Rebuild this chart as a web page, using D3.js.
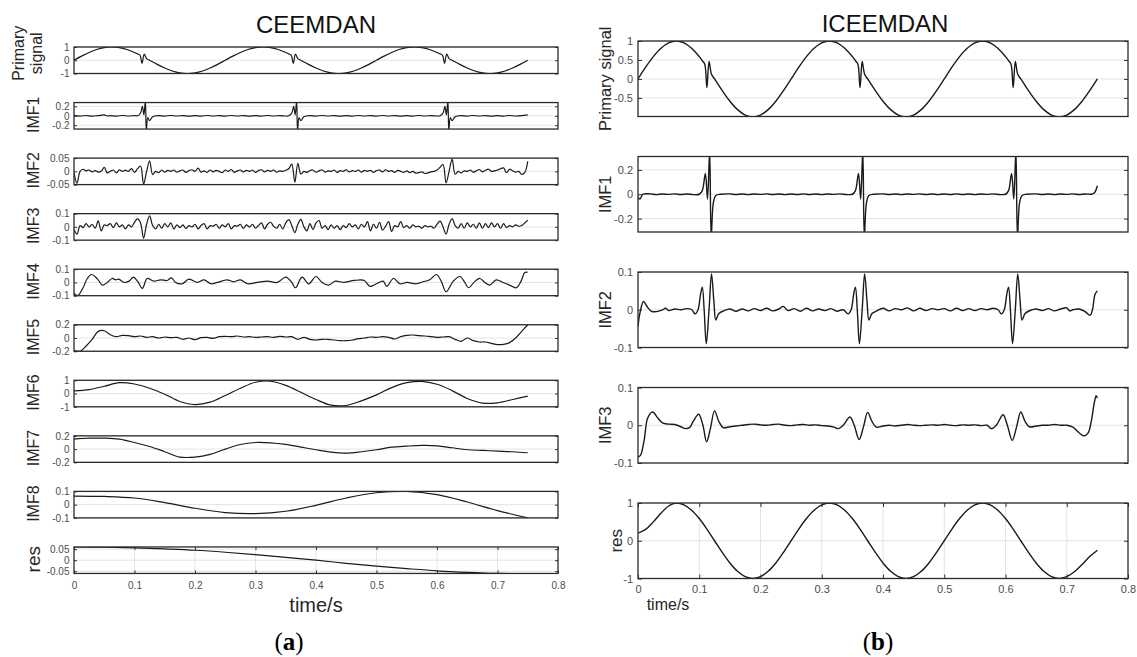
<!DOCTYPE html>
<html>
<head>
<meta charset="utf-8">
<script src="https://cdn.jsdelivr.net/npm/d3@7"></script>
<style>
  body { margin: 0; background: #fff; }
  svg text { font-family: "Liberation Sans", Arial, sans-serif; }
</style>
</head>
<body>
<script>
// ---------------- data ----------------
var timeTicks = [0, 0.1, 0.2, 0.3, 0.4, 0.5, 0.6, 0.7, 0.8];

// primary signal, [time, value]
var primarySignal = [
  [0, 0], [0.0125, 0.309], [0.025, 0.588], [0.0375, 0.809], [0.05, 0.951], [0.0625, 1], [0.075, 0.951], [0.0875, 0.809], [0.1, 0.588],
  [0.105, 0.48], [0.109, 0.39], [0.1125, -0.23], [0.116, 0.46], [0.12, 0.125],
  [0.125, 0], [0.1375, -0.309], [0.15, -0.588], [0.1625, -0.809], [0.175, -0.951], [0.1875, -1], [0.2, -0.951], [0.2125, -0.809], [0.225, -0.588], [0.2375, -0.309],
  [0.25, 0], [0.2625, 0.309], [0.275, 0.588], [0.2875, 0.809], [0.3, 0.951], [0.3125, 1], [0.325, 0.951], [0.3375, 0.809], [0.35, 0.588],
  [0.355, 0.48], [0.359, 0.39], [0.3625, -0.23], [0.366, 0.46], [0.37, 0.125],
  [0.375, 0], [0.3875, -0.309], [0.4, -0.588], [0.4125, -0.809], [0.425, -0.951], [0.4375, -1], [0.45, -0.951], [0.4625, -0.809], [0.475, -0.588], [0.4875, -0.309],
  [0.5, 0], [0.5125, 0.309], [0.525, 0.588], [0.5375, 0.809], [0.55, 0.951], [0.5625, 1], [0.575, 0.951], [0.5875, 0.809], [0.6, 0.588],
  [0.605, 0.48], [0.609, 0.39], [0.6125, -0.23], [0.616, 0.46], [0.62, 0.125],
  [0.625, 0], [0.6375, -0.309], [0.65, -0.588], [0.6625, -0.809], [0.675, -0.951], [0.6875, -1], [0.7, -0.951], [0.7125, -0.809], [0.725, -0.588], [0.7375, -0.309], [0.75, 0]
];

// CEEMDAN IMF1, [time, value]
var ceemdanImf1 = [
  [0, 0.01], [0.01, -0.005], [0.02, 0.006], [0.03, -0.006], [0.04, 0.004], [0.05, 0.018], [0.055, -0.004], [0.06, 0.003], [0.07, -0.005], [0.08, 0.006], [0.09, -0.004], [0.1, 0.005],
  [0.105, 0], [0.11, 0.06], [0.113, 0.2], [0.1155, 0.02], [0.118, 0.32], [0.1195, -0.32], [0.122, -0.04], [0.125, -0.1], [0.13, -0.02],
  [0.14, 0.004], [0.15, -0.005], [0.16, 0.006], [0.17, -0.004], [0.18, 0.005], [0.19, -0.006], [0.2, 0.004], [0.21, -0.005], [0.22, 0.006], [0.23, -0.004], [0.24, 0.005], [0.25, -0.005],
  [0.26, 0.006], [0.27, -0.004], [0.28, 0.005], [0.29, -0.006], [0.3, 0.004], [0.31, -0.005], [0.32, 0.006], [0.33, -0.004], [0.34, 0.005], [0.35, -0.004],
  [0.355, 0], [0.36, 0.06], [0.363, 0.2], [0.3655, 0.02], [0.368, 0.32], [0.3695, -0.32], [0.372, -0.04], [0.375, -0.1], [0.38, -0.02],
  [0.39, 0.004], [0.4, -0.005], [0.41, 0.006], [0.42, -0.004], [0.43, 0.005], [0.44, -0.006], [0.45, 0.004], [0.46, -0.005], [0.47, 0.006], [0.48, -0.004], [0.49, 0.005], [0.5, -0.005],
  [0.51, 0.006], [0.52, -0.004], [0.53, 0.005], [0.54, -0.006], [0.55, 0.004], [0.56, -0.005], [0.57, 0.006], [0.58, -0.004], [0.59, 0.005], [0.6, -0.004],
  [0.605, 0], [0.61, 0.06], [0.613, 0.2], [0.6155, 0.02], [0.618, 0.32], [0.6195, -0.32], [0.622, -0.04], [0.625, -0.1], [0.63, -0.02],
  [0.64, 0.004], [0.65, -0.005], [0.66, 0.006], [0.67, -0.004], [0.68, 0.005], [0.69, -0.006], [0.7, 0.004], [0.71, -0.005], [0.72, 0.006], [0.73, -0.004], [0.74, 0.003], [0.75, 0.02]
];

// CEEMDAN IMF2 and IMF3, one value every 0.005 s
var noiseStep = 0.005;
var ceemdanImf2 = [
  -0.005, -0.045, 0.0, 0.008, 0.002, 0.005, -0.002, 0.003, -0.003, 0.0,
  0.015, -0.006, 0.0, 0.005, -0.006, 0.006, 0.0, 0.005, 0.0, 0.01,
  -0.004, 0.01, 0.02, -0.048, 0.0, 0.04, -0.012, 0.0, -0.005, 0.005,
  -0.003, 0.004, 0.0, 0.005, -0.003, 0.002, 0.005, -0.004, 0.003, 0.006,
  0.0, 0.012, -0.003, 0.002, -0.004, 0.005, -0.002, 0.004, 0.0, -0.005,
  0.005, 0.0, 0.007, -0.004, 0.002, 0.005, -0.002, 0.004, 0.0, 0.005,
  -0.004, 0.003, 0.006, -0.002, 0.004, 0.0, 0.005, -0.003, 0.002, 0.0,
  0.004, 0.01, 0.027, -0.041, 0.03, -0.01, 0.0, -0.004, 0.003, 0.005,
  -0.003, 0.002, 0.006, -0.003, 0.002, 0.0, 0.005, -0.004, 0.003, 0.0,
  0.006, -0.002, 0.003, 0.0, 0.005, -0.003, 0.004, 0.0, 0.004, -0.004,
  0.003, 0.005, -0.002, 0.006, 0.0, 0.003, -0.004, 0.004, 0.0, -0.004,
  0.002, -0.005, 0.0, -0.007, -0.005, -0.002, -0.008, -0.006, -0.002, 0.0,
  0.005, 0.015, 0.026, -0.044, 0.0, 0.046, -0.011, 0.0, -0.006, 0.002,
  0.0, 0.005, -0.003, 0.002, 0.007, -0.002, 0.004, 0.008, 0.0, 0.002,
  0.005, 0.01, 0.013, -0.005, 0.008, 0.002, -0.003, 0.0, -0.011, -0.005,
  0.038
];
var ceemdanImf3 = [
  -0.02, -0.055, 0.01, -0.005, 0.025, 0.0, 0.02, -0.01, 0.045, -0.03,
  0.015, 0.01, 0.025, -0.005, 0.03, 0.0, 0.015, -0.015, 0.015, 0.0,
  0.035, 0.06, 0.03, -0.085, 0.02, 0.083, 0.01, -0.015, 0.02, -0.01,
  0.025, 0.0, 0.03, -0.015, 0.015, -0.005, 0.015, -0.012, 0.01, 0.0,
  0.02, -0.015, 0.01, 0.025, -0.015, 0.01, 0.005, 0.02, -0.01, 0.015,
  0.0, 0.025, -0.015, 0.01, 0.005, 0.02, -0.012, 0.015, 0.0, 0.02,
  -0.01, 0.01, 0.03, -0.015, 0.02, 0.035, 0.005, -0.01, 0.02, -0.015,
  0.03, 0.055, 0.01, -0.043, 0.02, 0.057, 0.0, -0.03, 0.025, -0.02,
  0.03, 0.048, -0.01, 0.01, -0.02, 0.015, -0.01, 0.01, -0.02, 0.01,
  -0.005, 0.025, 0.0, 0.015, -0.015, 0.02, 0.0, 0.04, -0.03, 0.02,
  -0.01, 0.035, -0.025, 0.005, 0.04, -0.035, 0.01, 0.0, 0.04, -0.005,
  0.01, -0.01, 0.015, 0.0, 0.005, -0.01, 0.01, 0.0, 0.005, -0.01,
  0.02, 0.044, 0.0, -0.054, 0.02, 0.063, 0.01, -0.01, 0.025, -0.01,
  0.03, 0.0, 0.02, -0.01, 0.03, -0.01, 0.025, -0.005, 0.03, 0.0,
  0.025, -0.01, 0.025, -0.005, 0.01, 0.0, 0.015, 0.005, 0.01, 0.03,
  0.05
];

// CEEMDAN IMF4, [time, value]
var ceemdanImf4 = [
  [0, -0.08], [0.006, -0.1], [0.015, -0.04], [0.022, 0.03], [0.029, 0.06], [0.039, 0.025], [0.047, -0.02], [0.055, 0.0], [0.063, 0.03], [0.069, 0.02],
  [0.074, 0.025], [0.083, 0.0], [0.091, 0.01], [0.098, 0.04], [0.105, 0.01], [0.113, -0.045], [0.121, 0.03], [0.132, 0.01], [0.143, 0.02], [0.154, 0.015],
  [0.161, 0.035], [0.168, 0.0], [0.179, -0.01], [0.19, 0.025], [0.204, 0.0], [0.215, 0.02], [0.226, -0.01], [0.237, 0.0], [0.253, 0.02], [0.264, 0.005],
  [0.275, 0.02], [0.287, -0.01], [0.303, 0.0], [0.32, 0.01], [0.336, 0.0], [0.35, 0.04], [0.36, 0.0], [0.366, -0.04], [0.377, 0.04], [0.388, -0.01],
  [0.4, 0.045], [0.41, 0.0], [0.421, -0.02], [0.432, 0.01], [0.446, 0.0], [0.463, 0.015], [0.48, 0.015], [0.489, -0.03], [0.5, -0.01], [0.511, 0.01],
  [0.517, -0.03], [0.528, 0.03], [0.539, -0.01], [0.55, 0.0], [0.566, -0.01], [0.577, 0.005], [0.588, 0.02], [0.599, 0.06], [0.607, 0.01], [0.615, -0.07],
  [0.627, 0.01], [0.638, 0.045], [0.646, 0.0], [0.652, -0.04], [0.663, 0.01], [0.671, 0.03], [0.679, 0.0], [0.687, -0.02], [0.698, 0.02], [0.709, 0.0],
  [0.72, -0.02], [0.731, -0.04], [0.739, 0.01], [0.745, 0.075], [0.75, 0.077]
];

// CEEMDAN IMF5, one value every 0.01 s
var imf5Step = 0.01;
var ceemdanImf5 = [
  -0.19, -0.2, -0.12, -0.02, 0.1, 0.11, 0.05, 0.02, 0.04, 0.035,
  0.02, 0.03, 0.01, 0.02, 0.0, 0.015, 0.005, 0.01, -0.02, 0.0,
  -0.025, 0.005, 0.01, -0.005, 0.02, 0.025, 0.02, 0.03, 0.015, 0.02,
  0.01, 0.015, 0.02, 0.01, 0.025, 0.015, 0.02, -0.02, 0.01, -0.02,
  -0.03, -0.02, -0.02, -0.03, -0.04, -0.04, -0.03, -0.01, 0.0, 0.015,
  0.01, 0.02, 0.01, -0.015, 0.02, 0.04, 0.045, 0.035, 0.03, 0.02,
  0.01, 0.015, 0.02, -0.02, -0.05, 0.0, -0.04, -0.06, -0.06, -0.08,
  -0.1, -0.095, -0.07, 0.0, 0.1, 0.2
];

// CEEMDAN IMF6 and IMF7, one value every 0.025 s
var slowStep = 0.025;
var ceemdanImf6 = [
  0.2, 0.3, 0.55, 0.82, 0.72, 0.4, -0.05, -0.6, -0.83, -0.65,
  -0.15, 0.4, 0.85, 0.93, 0.62, 0.1, -0.45, -0.88, -0.9, -0.55,
  -0.1, 0.45, 0.82, 0.92, 0.7, 0.22, -0.37, -0.72, -0.7, -0.45,
  -0.2
];
var ceemdanImf7 = [
  0.15, 0.165, 0.165, 0.15, 0.1, 0.04, -0.04, -0.12, -0.12, -0.08,
  0.0, 0.07, 0.1, 0.095, 0.07, 0.03, -0.01, -0.045, -0.06, -0.04,
  -0.01, 0.03, 0.045, 0.055, 0.05, 0.02, -0.01, -0.02, -0.03, -0.04,
  -0.055
];

// CEEMDAN IMF8 and residue, one value every 0.05 s
var trendStep = 0.05;
var ceemdanImf8 = [0.065, 0.062, 0.05, 0.015, -0.027, -0.06, -0.068, -0.05, -0.005, 0.05, 0.09, 0.1, 0.075, 0.02, -0.045, -0.1];
var ceemdanRes = [0.06, 0.059, 0.056, 0.051, 0.045, 0.036, 0.025, 0.013, 0.0, -0.014, -0.027, -0.038, -0.048, -0.055, -0.06, -0.062];

// ICEEMDAN IMF1, [time, value]
var iceemdanImf1 = [
  [0, -0.02], [0.003, -0.04], [0.008, 0.0], [0.02, 0.003], [0.03, -0.003], [0.04, 0.002], [0.05, -0.001], [0.06, 0.003], [0.07, -0.002], [0.08, 0.002], [0.09, -0.003], [0.1, 0.0],
  [0.105, 0.03], [0.11, 0.17], [0.1135, -0.04], [0.117, 0.36], [0.1195, -0.36], [0.123, -0.07], [0.127, -0.01], [0.135, 0.0],
  [0.15, 0.003], [0.16, -0.002], [0.17, 0.002], [0.18, -0.003], [0.19, 0.002], [0.2, -0.001], [0.21, 0.003], [0.22, -0.002], [0.23, 0.002], [0.24, -0.003], [0.25, 0.002],
  [0.26, -0.002], [0.27, 0.003], [0.28, -0.002], [0.29, 0.002], [0.3, -0.003], [0.31, 0.002], [0.32, -0.001], [0.33, 0.003], [0.34, -0.002], [0.35, 0.0],
  [0.355, 0.03], [0.36, 0.17], [0.3635, -0.04], [0.367, 0.36], [0.3695, -0.36], [0.373, -0.07], [0.377, -0.01], [0.385, 0.0],
  [0.4, 0.003], [0.41, -0.002], [0.42, 0.002], [0.43, -0.003], [0.44, 0.002], [0.45, -0.001], [0.46, 0.003], [0.47, -0.002], [0.48, 0.002], [0.49, -0.003], [0.5, 0.002],
  [0.51, -0.002], [0.52, 0.003], [0.53, -0.002], [0.54, 0.002], [0.55, -0.003], [0.56, 0.002], [0.57, -0.001], [0.58, 0.003], [0.59, -0.002], [0.6, 0.0],
  [0.605, 0.03], [0.61, 0.17], [0.6135, -0.04], [0.617, 0.36], [0.6195, -0.36], [0.623, -0.07], [0.627, -0.01], [0.635, 0.0],
  [0.65, 0.003], [0.66, -0.002], [0.67, 0.002], [0.68, -0.003], [0.69, 0.002], [0.7, -0.001], [0.71, 0.003], [0.72, -0.002], [0.73, 0.002], [0.74, 0.0], [0.745, 0.01], [0.75, 0.07]
];

// ICEEMDAN IMF2, [time, value]
var iceemdanImf2 = [
  [0, -0.045], [0.003, -0.01], [0.009, 0.022], [0.015, 0.008], [0.022, -0.004], [0.03, -0.005], [0.04, 0.0], [0.045, 0.004], [0.05, -0.002], [0.06, 0.002],
  [0.07, 0.0], [0.08, 0.003], [0.088, 0.0], [0.093, -0.011], [0.098, 0.0], [0.102, 0.04], [0.105, 0.06], [0.108, 0.0], [0.1115, -0.09], [0.116, 0.0],
  [0.12, 0.095], [0.124, 0.02], [0.127, -0.027], [0.132, -0.01], [0.14, -0.003], [0.15, 0.002], [0.16, -0.004], [0.17, 0.002], [0.18, -0.003], [0.19, 0.003],
  [0.2, -0.002], [0.21, 0.004], [0.22, -0.003], [0.23, 0.002], [0.237, 0.009], [0.245, -0.002], [0.255, 0.003], [0.265, -0.004], [0.275, 0.004], [0.285, -0.003],
  [0.295, 0.002], [0.305, -0.002], [0.315, 0.003], [0.325, -0.004], [0.335, 0.0], [0.343, -0.011], [0.348, 0.0], [0.352, 0.04], [0.355, 0.06], [0.358, 0.0],
  [0.3615, -0.09], [0.366, 0.0], [0.37, 0.095], [0.374, 0.02], [0.377, -0.027], [0.382, -0.01], [0.39, -0.003], [0.4, 0.004], [0.41, -0.003], [0.42, 0.003],
  [0.43, 0.0], [0.44, 0.005], [0.45, -0.003], [0.46, 0.004], [0.47, -0.002], [0.48, 0.003], [0.49, 0.0], [0.5, 0.003], [0.51, -0.003], [0.52, 0.004],
  [0.53, -0.002], [0.54, 0.003], [0.55, -0.002], [0.56, 0.003], [0.57, 0.0], [0.58, 0.004], [0.588, 0.0], [0.593, -0.011], [0.598, 0.0], [0.602, 0.04],
  [0.605, 0.06], [0.608, 0.0], [0.6115, -0.09], [0.616, 0.0], [0.62, 0.095], [0.624, 0.02], [0.627, -0.027], [0.632, -0.01], [0.64, -0.002], [0.65, 0.002],
  [0.66, -0.002], [0.67, 0.003], [0.68, -0.003], [0.69, 0.002], [0.7, 0.005], [0.705, -0.003], [0.71, 0.0], [0.72, 0.002], [0.73, -0.005], [0.738, -0.015],
  [0.742, 0.0], [0.746, 0.04], [0.75, 0.05]
];

// ICEEMDAN IMF3, [time, value]
var iceemdanImf3 = [
  [0, -0.084], [0.004, -0.08], [0.01, -0.04], [0.016, 0.02], [0.024, 0.035], [0.032, 0.02], [0.04, 0.006], [0.05, 0.003], [0.06, 0.002], [0.07, -0.004],
  [0.078, -0.009], [0.085, -0.005], [0.09, 0.01], [0.099, 0.029], [0.106, 0.0], [0.112, -0.044], [0.118, -0.01], [0.125, 0.038], [0.132, 0.01], [0.139, -0.006],
  [0.15, -0.004], [0.16, -0.002], [0.17, 0.0], [0.18, 0.002], [0.19, 0.003], [0.2, 0.001], [0.21, 0.0], [0.22, 0.002], [0.23, 0.003], [0.24, 0.0],
  [0.25, -0.001], [0.26, 0.001], [0.27, 0.002], [0.28, 0.0], [0.29, 0.001], [0.3, -0.001], [0.31, -0.002], [0.32, -0.005], [0.327, -0.009], [0.335, 0.0],
  [0.346, 0.022], [0.353, 0.0], [0.361, -0.038], [0.368, -0.005], [0.375, 0.034], [0.382, 0.01], [0.389, -0.005], [0.4, -0.002], [0.41, 0.0], [0.42, -0.002],
  [0.43, 0.0], [0.44, 0.002], [0.45, 0.0], [0.46, -0.001], [0.47, 0.0], [0.48, 0.001], [0.49, 0.0], [0.5, 0.002], [0.51, 0.0], [0.52, -0.001],
  [0.53, 0.001], [0.54, 0.0], [0.55, 0.001], [0.56, -0.001], [0.57, 0.0], [0.577, -0.009], [0.585, 0.0], [0.596, 0.028], [0.603, 0.0], [0.611, -0.04],
  [0.618, -0.005], [0.625, 0.035], [0.632, 0.01], [0.639, -0.004], [0.65, -0.002], [0.66, 0.0], [0.67, 0.0], [0.68, 0.002], [0.69, 0.0], [0.7, 0.0],
  [0.71, -0.005], [0.72, -0.02], [0.728, -0.028], [0.735, -0.02], [0.74, 0.01], [0.745, 0.06], [0.748, 0.078], [0.75, 0.072]
];

// ICEEMDAN residue, [time, value]
var iceemdanRes = [
  [0, 0.2], [0.0125, 0.3], [0.025, 0.5], [0.0375, 0.73], [0.05, 0.92], [0.0625, 1], [0.075, 0.951], [0.0875, 0.809], [0.1, 0.588], [0.1125, 0.309],
  [0.125, 0], [0.1375, -0.309], [0.15, -0.588], [0.1625, -0.809], [0.175, -0.951], [0.1875, -1], [0.2, -0.951], [0.2125, -0.809], [0.225, -0.588], [0.2375, -0.309],
  [0.25, 0], [0.2625, 0.309], [0.275, 0.588], [0.2875, 0.809], [0.3, 0.951], [0.3125, 1], [0.325, 0.951], [0.3375, 0.809], [0.35, 0.588], [0.3625, 0.309],
  [0.375, 0], [0.3875, -0.309], [0.4, -0.588], [0.4125, -0.809], [0.425, -0.951], [0.4375, -1], [0.45, -0.951], [0.4625, -0.809], [0.475, -0.588], [0.4875, -0.309],
  [0.5, 0], [0.5125, 0.309], [0.525, 0.588], [0.5375, 0.809], [0.55, 0.951], [0.5625, 1], [0.575, 0.951], [0.5875, 0.809], [0.6, 0.588], [0.6125, 0.309],
  [0.625, 0], [0.6375, -0.309], [0.65, -0.588], [0.6625, -0.809], [0.675, -0.951], [0.6875, -1], [0.7, -0.95], [0.7125, -0.82], [0.725, -0.63], [0.7375, -0.42], [0.75, -0.25]
];

var ceemdanNames = ["Primary signal", "IMF1", "IMF2", "IMF3", "IMF4", "IMF5", "IMF6", "IMF7", "IMF8", "res"];
var ceemdanDomains = [[-1, 1], [-0.28, 0.28], [-0.05, 0.05], [-0.1, 0.1], [-0.1, 0.1], [-0.2, 0.2], [-1, 1], [-0.2, 0.2], [-0.1, 0.1], [-0.06, 0.06]];
var ceemdanTicks = [[-1, 0, 1], [-0.2, 0, 0.2], [-0.05, 0, 0.05], [-0.1, 0, 0.1], [-0.1, 0, 0.1], [-0.2, 0, 0.2], [-1, 0, 1], [-0.2, 0, 0.2], [-0.1, 0, 0.1], [-0.05, 0, 0.05]];

var iceemdanNames = ["Primary signal", "IMF1", "IMF2", "IMF3", "res"];
var iceemdanDomains = [[-0.99, 1], [-0.31, 0.31], [-0.1, 0.1], [-0.1, 0.1], [-1, 1]];
var iceemdanTicks = [[-0.5, 0, 0.5, 1], [-0.2, 0, 0.2], [-0.1, 0, 0.1], [-0.1, 0, 0.1], [-1, 0, 1]];

// ---------------- drawing ----------------
function toPairs(values, step) {
  return values.map(function(v, i) { return [i * step, v]; });
}

var ceemdanSeries = [
  primarySignal, ceemdanImf1, toPairs(ceemdanImf2, noiseStep), toPairs(ceemdanImf3, noiseStep), ceemdanImf4,
  toPairs(ceemdanImf5, imf5Step), toPairs(ceemdanImf6, slowStep), toPairs(ceemdanImf7, slowStep),
  toPairs(ceemdanImf8, trendStep), toPairs(ceemdanRes, trendStep)
];
var iceemdanSeries = [primarySignal, iceemdanImf1, iceemdanImf2, iceemdanImf3, iceemdanRes];

var width = 1137, height = 657;
var svg = d3.select("body").append("svg")
  .attr("width", width)
  .attr("height", height);
var defs = svg.append("defs");
var clipCount = 0;

var tickColor = "#4d4d4d";
var lineColor = "#1a1a1a";
var gridColor = "#e4e4e4";
var fontFamily = "'Liberation Sans', Arial, sans-serif";

function drawPanel(opt) {
  var x = d3.scaleLinear().domain([0, 0.8]).range([opt.left, opt.right]);
  var y = d3.scaleLinear().domain(opt.domain).range([opt.top + opt.height, opt.top]);
  var g = svg.append("g");
  var clipId = "clip" + (clipCount++);

  defs.append("clipPath").attr("id", clipId)
    .append("rect")
    .attr("x", opt.left).attr("y", opt.top)
    .attr("width", opt.right - opt.left).attr("height", opt.height);

  // horizontal grid
  g.append("g").selectAll("line")
    .data(opt.ticks).enter().append("line")
    .attr("x1", opt.left).attr("x2", opt.right)
    .attr("y1", function(d) { return y(d); })
    .attr("y2", function(d) { return y(d); })
    .attr("stroke", gridColor)
    .attr("stroke-width", 1);

  // vertical grid only on the bottom panel
  if (opt.bottom) {
    g.append("g").selectAll("line")
      .data(timeTicks.slice(1, -1)).enter().append("line")
      .attr("x1", function(d) { return x(d); })
      .attr("x2", function(d) { return x(d); })
      .attr("y1", opt.top).attr("y2", opt.top + opt.height)
      .attr("stroke", gridColor)
      .attr("stroke-width", 1);
  }

  var line = d3.line()
    .x(function(d) { return x(d[0]); })
    .y(function(d) { return y(d[1]); })
    .curve(d3.curveCatmullRom.alpha(0.5));

  g.append("path")
    .datum(opt.data)
    .attr("clip-path", "url(#" + clipId + ")")
    .attr("d", line)
    .attr("fill", "none")
    .attr("stroke", lineColor)
    .attr("stroke-width", opt.lineWidth)
    .attr("stroke-linejoin", "round");

  // y axes, ticks pointing inwards
  var leftAxis = g.append("g")
    .attr("transform", "translate(" + opt.left + ",0)")
    .call(d3.axisLeft(y).tickValues(opt.ticks).tickSize(-opt.tickLen).tickPadding(opt.pad)
      .tickFormat(function(d) { return String(d); }));
  var rightAxis = g.append("g")
    .attr("transform", "translate(" + opt.right + ",0)")
    .call(d3.axisRight(y).tickValues(opt.ticks).tickSize(-opt.tickLen).tickFormat(""));
  var axes = [leftAxis, rightAxis];

  if (opt.bottom) {
    var bottomAxis = g.append("g")
      .attr("transform", "translate(0," + (opt.top + opt.height) + ")")
      .call(d3.axisBottom(x).tickValues(timeTicks).tickSize(-opt.tickLen).tickPadding(opt.xPad)
        .tickFormat(function(d) { return String(d); }));
    var topAxis = g.append("g")
      .attr("transform", "translate(0," + opt.top + ")")
      .call(d3.axisTop(x).tickValues(timeTicks).tickSize(-opt.tickLen).tickFormat(""));
    axes.push(bottomAxis, topAxis);
  }

  axes.forEach(function(a) {
    a.attr("font-family", fontFamily).attr("font-size", opt.tickFont);
    a.select(".domain").remove();
    a.selectAll(".tick line").attr("stroke", "#333").attr("stroke-width", 1);
    a.selectAll(".tick text").attr("fill", tickColor);
  });

  g.append("rect")
    .attr("x", opt.left).attr("y", opt.top)
    .attr("width", opt.right - opt.left).attr("height", opt.height)
    .attr("fill", "none")
    .attr("stroke", "#2b2b2b")
    .attr("stroke-width", 1.3);

  // y label
  var cy = opt.top + opt.height / 2 + opt.labelShift;
  opt.labelLines.forEach(function(txt, k) {
    g.append("text")
      .attr("transform", "translate(" + opt.labelX[k] + "," + cy + ") rotate(-90)")
      .attr("text-anchor", "middle")
      .attr("font-size", opt.labelFont)
      .attr("fill", "#262626")
      .text(txt);
  });
}

// CEEMDAN column
ceemdanNames.forEach(function(name, i) {
  var isRes = name === "res";
  var lines = name === "Primary signal" ? ["Primary", "signal"] : [name];
  drawPanel({
    left: 74, right: 558,
    top: 47 + i * 55.55, height: 26.5,
    domain: ceemdanDomains[i], ticks: ceemdanTicks[i], data: ceemdanSeries[i],
    bottom: i === ceemdanNames.length - 1,
    tickLen: 3, pad: 4.5, xPad: 8, tickFont: 10, lineWidth: 1.2,
    labelLines: lines,
    labelX: lines.length === 2 ? [24, 42] : [isRes ? 40 : 39],
    labelFont: isRes ? 19 : 16,
    labelShift: lines.length === 2 ? -7 : -1
  });
});

// ICEEMDAN column
iceemdanNames.forEach(function(name, i) {
  var isRes = name === "res";
  drawPanel({
    left: 638, right: 1128,
    top: 41 + i * 115.5, height: 75.5,
    domain: iceemdanDomains[i], ticks: iceemdanTicks[i], data: iceemdanSeries[i],
    bottom: i === iceemdanNames.length - 1,
    tickLen: 4, pad: 5, xPad: 6.5, tickFont: 11, lineWidth: 1.4,
    labelLines: [name],
    labelX: [isRes ? 622 : 611],
    labelFont: isRes ? 17 : 16.5,
    labelShift: 0
  });
});

// titles and captions
svg.append("text")
  .attr("x", 316).attr("y", 33)
  .attr("text-anchor", "middle")
  .attr("font-size", 24)
  .attr("fill", "#111")
  .text("CEEMDAN");
svg.append("text")
  .attr("x", 885).attr("y", 32)
  .attr("text-anchor", "middle")
  .attr("font-size", 24)
  .attr("fill", "#111")
  .text("ICEEMDAN");

svg.append("text")
  .attr("x", 316).attr("y", 612)
  .attr("text-anchor", "middle")
  .attr("font-size", 20)
  .attr("fill", "#262626")
  .text("time/s");
svg.append("text")
  .attr("x", 668).attr("y", 610)
  .attr("text-anchor", "middle")
  .attr("font-size", 16)
  .attr("fill", "#262626")
  .text("time/s");

[["a", 289], ["b", 878]].forEach(function(c) {
  var t = svg.append("text")
    .attr("x", c[1]).attr("y", 650)
    .attr("text-anchor", "middle")
    .attr("font-size", 25)
    .attr("fill", "#000")
    .style("font-family", "'Liberation Serif', 'DejaVu Serif', serif");
  t.append("tspan").text("(");
  t.append("tspan").attr("font-weight", "bold").text(c[0]);
  t.append("tspan").text(")");
});
</script>
</body>
</html>
